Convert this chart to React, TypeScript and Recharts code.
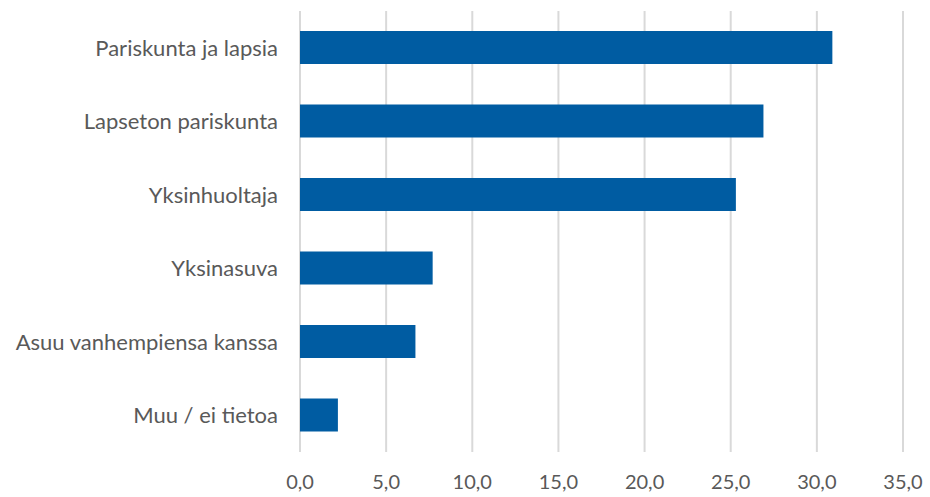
import React from 'react';
import { BarChart, Bar, XAxis, YAxis, CartesianGrid } from 'recharts';

const categories = [
  'Pariskunta ja lapsia',
  'Lapseton pariskunta',
  'Yksinhuoltaja',
  'Yksinasuva',
  'Asuu vanhempiensa kanssa',
  'Muu / ei tietoa',
];
const values = [30.9, 26.9, 25.3, 7.7, 6.7, 2.2];
const xTicks = [0, 5, 10, 15, 20, 25, 30, 35];

const data = categories.map((name, i) => ({ name, value: values[i] }));

const xTickStyle = { fill: '#595959', fontSize: 20, fontFamily: 'Lato, sans-serif' };
const yTickStyle = { fill: '#595959', fontSize: 22, fontFamily: 'Lato, sans-serif' };

export default function App() {
  return (
    <div style={{ position: 'absolute', left: 0, top: 0, background: '#fff' }}>
      <BarChart
        width={930}
        height={497}
        data={data}
        layout="vertical"
        margin={{ top: 11, right: 27, bottom: 0, left: 0 }}
      >
        <CartesianGrid horizontal={false} stroke="#d9d9d9" strokeWidth={2} />
        <XAxis
          type="number"
          domain={[0, 35]}
          ticks={xTicks}
          tickFormatter={(v: number) => v.toFixed(1).replace('.', ',')}
          axisLine={false}
          tickLine={false}
          tickMargin={17}
          height={45}
          tick={xTickStyle}
          interval={0}
        />
        <YAxis
          type="category"
          dataKey="name"
          width={300}
          axisLine={false}
          tickLine={false}
          tickMargin={16}
          tick={yTickStyle}
          interval={0}
        />
        <Bar dataKey="value" fill="#005ca2" barSize={33} isAnimationActive={false} />
      </BarChart>
    </div>
  );
}
